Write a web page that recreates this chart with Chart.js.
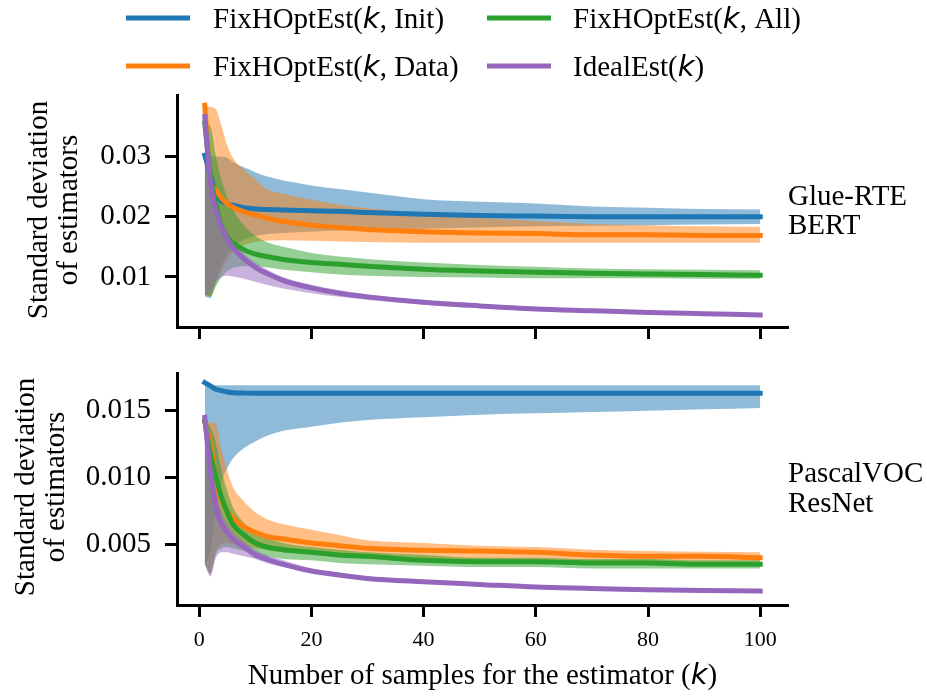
<!DOCTYPE html>
<html><head><meta charset="utf-8">
<script src="https://cdn.jsdelivr.net/npm/chart.js@4/dist/chart.umd.min.js"></script>
<style>
html,body{margin:0;padding:0;background:#fff;}
#wrap{position:relative;width:927px;height:698px;}
canvas{position:absolute;left:0;top:0;}
</style>
</head><body><div id="wrap"><canvas id="c1" width="927" height="698"></canvas><canvas id="c2" width="927" height="698"></canvas></div>
<script>
// ---------- data ----------
const kValues = [1,2,3,4,5,6,8,10,12,15,20,25,30,40,50,60,70,80,90,100];
const xTicks = [0,20,40,60,80,100];
const rteYTicks = [0.01,0.02,0.03];
const vocYTicks = [0.005,0.010,0.015];
const legendLabels = [['FixHOptEst(','k',', Init)'],['FixHOptEst(','k',', Data)'],['FixHOptEst(','k',', All)'],['IdealEst(','k',')']];
const panelLabels = [['Glue-RTE','BERT'],['PascalVOC','ResNet']];
const yTitle = ['Standard deviation','of estimators'];
const xTitle = ['Number of samples for the estimator (','k',')'];

// Glue-RTE / BERT
const rteInitMean = [0.0302,0.0270,0.0238,0.0226,0.0222,0.0219,0.0215,0.0213,0.0212,0.0211,0.0210,0.0209,0.0207,0.0204,0.0202,0.0201,0.0200,0.0200,0.0200,0.0200];
const rteInitHigh = [0.0302,0.0300,0.0300,0.0300,0.0298,0.0291,0.0282,0.0274,0.0267,0.0260,0.0252,0.0246,0.0240,0.0229,0.0225,0.0222,0.0217,0.0215,0.0213,0.0212];
const rteInitLow  = [0.0068,0.0065,0.0095,0.0120,0.0138,0.0150,0.0162,0.0168,0.0171,0.0173,0.0175,0.0177,0.0178,0.0180,0.0182,0.0184,0.0185,0.0186,0.0187,0.0188];
const rteDataMean = [0.0385,0.0265,0.0244,0.0231,0.0222,0.0216,0.0208,0.0203,0.0198,0.0192,0.0186,0.0182,0.0179,0.0175,0.0173,0.0172,0.0170,0.0170,0.0169,0.0169];
const rteDataHigh = [0.0385,0.0382,0.0378,0.0350,0.0318,0.0298,0.0278,0.0262,0.0246,0.0238,0.0228,0.0220,0.0214,0.0205,0.0198,0.0193,0.0188,0.0186,0.0184,0.0183];
const rteDataLow  = [0.0070,0.0068,0.0088,0.0112,0.0130,0.0142,0.0153,0.0158,0.0160,0.0161,0.0160,0.0159,0.0158,0.0157,0.0157,0.0157,0.0157,0.0157,0.0157,0.0157];
const rteAllMean  = [0.0355,0.0270,0.0220,0.0185,0.0166,0.0157,0.0145,0.0138,0.0134,0.0129,0.0124,0.0121,0.0118,0.0113,0.0110,0.0108,0.0106,0.0105,0.0104,0.0103];
const rteAllHigh  = [0.0355,0.0350,0.0300,0.0260,0.0232,0.0212,0.0185,0.0168,0.0158,0.0150,0.0140,0.0134,0.0130,0.0124,0.0120,0.0117,0.0114,0.0113,0.0112,0.0111];
const rteAllLow   = [0.0070,0.0068,0.0085,0.0100,0.0110,0.0115,0.0118,0.0118,0.0116,0.0112,0.0108,0.0104,0.0102,0.0100,0.0099,0.0098,0.0098,0.0098,0.0097,0.0097];
const rteIdealMean= [0.0366,0.0258,0.0210,0.0183,0.0163,0.0149,0.0130,0.0116,0.0106,0.0094,0.0082,0.0073,0.0067,0.0058,0.0052,0.0047,0.0044,0.0041,0.0039,0.0037];
const rteIdealHigh= [0.0366,0.0275,0.0225,0.0196,0.0175,0.0160,0.0139,0.0124,0.0113,0.0100,0.0087,0.0078,0.0071,0.0061,0.0055,0.0050,0.0046,0.0043,0.0041,0.0039];
const rteIdealLow = [0.0070,0.0075,0.0092,0.0100,0.0102,0.0101,0.0097,0.0092,0.0087,0.0081,0.0073,0.0067,0.0062,0.0054,0.0049,0.0045,0.0041,0.0039,0.0036,0.0034];

// PascalVOC / ResNet
const vocInitMean = [0.0171,0.01685,0.0166,0.0165,0.0164,0.01635,0.01632,0.0163,0.0163,0.0163,0.0163,0.0163,0.0163,0.0163,0.0163,0.0163,0.0163,0.0163,0.0163,0.0163];
const vocInitHigh = [0.0169,0.0169,0.0169,0.0169,0.0169,0.0169,0.0169,0.0169,0.0169,0.0169,0.0169,0.0169,0.0169,0.0169,0.0169,0.0169,0.0169,0.0169,0.0169,0.0169];
const vocInitLow  = [0.0035,0.0045,0.0075,0.0097,0.0107,0.0114,0.0122,0.0127,0.0131,0.0135,0.0138,0.0141,0.0143,0.0145,0.0147,0.0148,0.0149,0.0150,0.0151,0.0152];
const vocDataMean = [0.0142,0.0125,0.0098,0.0082,0.0075,0.0070,0.0063,0.0059,0.0056,0.0054,0.0051,0.0049,0.0047,0.00455,0.0045,0.0044,0.0042,0.0041,0.0041,0.0040];
const vocDataHigh = [0.0142,0.0141,0.0140,0.0120,0.0105,0.0093,0.0082,0.0074,0.0069,0.0065,0.0061,0.0057,0.0053,0.0051,0.0049,0.0048,0.0046,0.0045,0.00445,0.0044];
const vocDataLow  = [0.0035,0.0028,0.0045,0.0050,0.0051,0.0050,0.0049,0.0047,0.0046,0.0044,0.0043,0.0041,0.0040,0.0039,0.0038,0.0038,0.0037,0.0037,0.0037,0.0037];
const vocAllMean  = [0.0142,0.0118,0.0100,0.0085,0.0074,0.0065,0.0057,0.0051,0.0048,0.0046,0.0044,0.0042,0.0041,0.0038,0.0037,0.0037,0.0036,0.0036,0.0035,0.0035];
const vocAllHigh  = [0.0142,0.0138,0.0125,0.0105,0.0090,0.0078,0.0066,0.0059,0.0055,0.0051,0.0048,0.0046,0.0044,0.0042,0.0040,0.0040,0.0039,0.0039,0.0038,0.0038];
const vocAllLow   = [0.0035,0.0028,0.0043,0.0047,0.0048,0.0047,0.0045,0.0043,0.0041,0.0039,0.0038,0.0036,0.0035,0.0034,0.0033,0.0033,0.0032,0.0032,0.0032,0.0032];
const vocIdealMean= [0.0145,0.0105,0.0078,0.0065,0.0059,0.0054,0.0048,0.0042,0.0039,0.0035,0.0030,0.0027,0.00245,0.0022,0.0020,0.0018,0.0017,0.0016,0.00155,0.0015];
const vocIdealHigh= [0.0145,0.0118,0.0090,0.0074,0.0066,0.0060,0.0052,0.0046,0.0042,0.0038,0.0032,0.0029,0.0026,0.0023,0.0021,0.0019,0.0018,0.0017,0.0016,0.0016];
const vocIdealLow = [0.0035,0.0026,0.0040,0.0044,0.0044,0.0043,0.0041,0.0039,0.0036,0.0033,0.0029,0.0026,0.0023,0.0021,0.0019,0.0017,0.0016,0.0015,0.0014,0.0014];

// ---------- styling ----------
const colors = ['#1f77b4','#ff7f0e','#2ca02c','#9467bd'];
const bandColors = ['rgba(31,119,180,0.5)','rgba(255,127,14,0.5)','rgba(44,160,44,0.5)','rgba(148,103,189,0.5)'];
const SERIF = '"Liberation Serif", "Times New Roman", serif';
const MATH = '"DejaVu Sans", sans-serif';
Chart.defaults.font.family = SERIF;
Chart.defaults.color = '#000';

const W = 927, H = 698;
const AX_LEFT = 177, AX_RIGHT = 788;
const X_MIN = -3.95, X_MAX = 104.95;

function pts(ys){ return kValues.map((k,i)=>({x:k,y:ys[i]})); }

function buildDatasets(means, highs, lows){
  const ds = [];
  means.forEach((m,s)=>{
    ds.push({data:pts(highs[s]), borderWidth:0, borderColor:'rgba(0,0,0,0)', pointRadius:0, fill:false, cubicInterpolationMode:'monotone', order:20+(3-s)});
    ds.push({data:pts(lows[s]), borderWidth:0, borderColor:'rgba(0,0,0,0)', backgroundColor:bandColors[s], pointRadius:0, fill:'-1', cubicInterpolationMode:'monotone', order:20+(3-s)});
  });
  means.forEach((m,s)=>{
    ds.push({data:pts(m), borderColor:colors[s], borderWidth:5, pointRadius:0, fill:false, borderCapStyle:'square', cubicInterpolationMode:'monotone', order:(3-s)});
  });
  return ds;
}

function drawParts(ctx, parts, x, y, size, align){
  const fonts = parts.map((p,i)=> i%2 ? `italic ${size}px ${MATH}` : `${size}px ${SERIF}`);
  const widths = parts.map((p,i)=>{ ctx.font = fonts[i]; return ctx.measureText(p).width; });
  const total = widths.reduce((a,b)=>a+b,0);
  let cx = align==='center' ? x-total/2 : x;
  ctx.textAlign = 'left';
  parts.forEach((p,i)=>{ ctx.font = fonts[i]; ctx.fillText(p,cx,y); cx += widths[i]; });
}

function drawYTitle(ctx, cy, x1, x2){
  [[yTitle[0],x1],[yTitle[1],x2]].forEach(([t,x])=>{
    ctx.save();
    ctx.fillStyle = '#000';
    ctx.font = `29px ${SERIF}`;
    ctx.textAlign = 'center';
    ctx.textBaseline = 'alphabetic';
    ctx.translate(x, cy); ctx.rotate(-Math.PI/2); ctx.fillText(t,0,0);
    ctx.restore();
  });
}

function drawPanelLabel(ctx, lines, x, y1, y2){
  ctx.save();
  ctx.fillStyle = '#000';
  ctx.font = `29px ${SERIF}`;
  ctx.textAlign = 'left';
  ctx.textBaseline = 'alphabetic';
  ctx.fillText(lines[0], x, y1);
  ctx.fillText(lines[1], x, y2);
  ctx.restore();
}

const topDecor = {
  id:'topDecor',
  afterDraw(chart){
    const ctx = chart.ctx;
    ctx.save();
    ctx.fillStyle = '#000';
    ctx.textBaseline = 'alphabetic';
    const pos = [[126,18,213,28],[126,66,213,76],[487,18,573,28],[487,66,573,76]];
    legendLabels.forEach((lab,i)=>{
      const [hx,hy,tx,ty] = pos[i];
      ctx.strokeStyle = colors[i]; ctx.lineWidth = 5; ctx.lineCap = 'butt';
      ctx.beginPath(); ctx.moveTo(hx,hy); ctx.lineTo(hx+64,hy); ctx.stroke();
      ctx.fillStyle = '#000';
      drawParts(ctx, lab, tx, ty, 29, 'left');
    });
    ctx.restore();
    drawYTitle(ctx, 210, 47, 77);
    drawPanelLabel(ctx, panelLabels[0], 788, 205, 234);
  }
};

const bottomDecor = {
  id:'bottomDecor',
  afterDraw(chart){
    const ctx = chart.ctx;
    drawYTitle(ctx, 487, 34, 64);
    drawPanelLabel(ctx, panelLabels[1], 788, 482, 512);
    ctx.save();
    ctx.fillStyle = '#000';
    ctx.textBaseline = 'alphabetic';
    drawParts(ctx, xTitle, (AX_LEFT+AX_RIGHT)/2, 684, 29, 'center');
    ctx.restore();
  }
};

function makeChart(id, cfg){
  const xh = cfg.xAxisHeight;
  return new Chart(document.getElementById(id), {
    type:'line',
    data:{datasets:buildDatasets(cfg.means, cfg.highs, cfg.lows)},
    options:{
      responsive:false, animation:false, events:[],
      layout:{padding:{left:0, right:W-AX_RIGHT, top:cfg.top, bottom:H-cfg.bottom-xh}},
      plugins:{legend:{display:false}, tooltip:{enabled:false}, filler:{drawTime:'beforeDatasetsDraw'}},
      scales:{
        x:{type:'linear', min:X_MIN, max:X_MAX,
          afterBuildTicks:s=>{ s.ticks = xTicks.map(v=>({value:v})); },
          afterFit:s=>{ s.height = xh; },
          grid:{display:true, drawOnChartArea:false, drawTicks:true, tickLength:12, tickWidth:3, tickColor:'#000'},
          border:{display:true, color:'#000', width:3},
          ticks:{display:true, padding:10, font:{size:22, family:SERIF}, color:'#000', maxRotation:0,
            callback:v=> cfg.showXLabels ? String(v) : ''}
        },
        y:{type:'linear', min:cfg.ymin, max:cfg.ymax,
          afterBuildTicks:s=>{ s.ticks = cfg.yTicks.map(v=>({value:v})); },
          afterFit:s=>{ s.width = AX_LEFT; },
          grid:{display:true, drawOnChartArea:false, drawTicks:true, tickLength:12, tickWidth:3, tickColor:'#000'},
          border:{display:true, color:'#000', width:3},
          ticks:{padding:14, font:{size:29, family:SERIF}, color:'#000', callback:v=>v.toFixed(cfg.dec)}
        }
      }
    },
    plugins:[cfg.decor]
  });
}

makeChart('c1', {means:[rteInitMean,rteDataMean,rteAllMean,rteIdealMean], highs:[rteInitHigh,rteDataHigh,rteAllHigh,rteIdealHigh], lows:[rteInitLow,rteDataLow,rteAllLow,rteIdealLow],
  top:95, bottom:327, xAxisHeight:20, ymin:0.0017, ymax:0.0402, yTicks:rteYTicks, dec:2, showXLabels:false, decor:topDecor});
makeChart('c2', {means:[vocInitMean,vocDataMean,vocAllMean,vocIdealMean], highs:[vocInitHigh,vocDataHigh,vocAllHigh,vocIdealHigh], lows:[vocInitLow,vocDataLow,vocAllLow,vocIdealLow],
  top:373, bottom:605, xAxisHeight:60, ymin:0.00046, ymax:0.01782, yTicks:vocYTicks, dec:3, showXLabels:true, decor:bottomDecor});
</script>
</body></html>
